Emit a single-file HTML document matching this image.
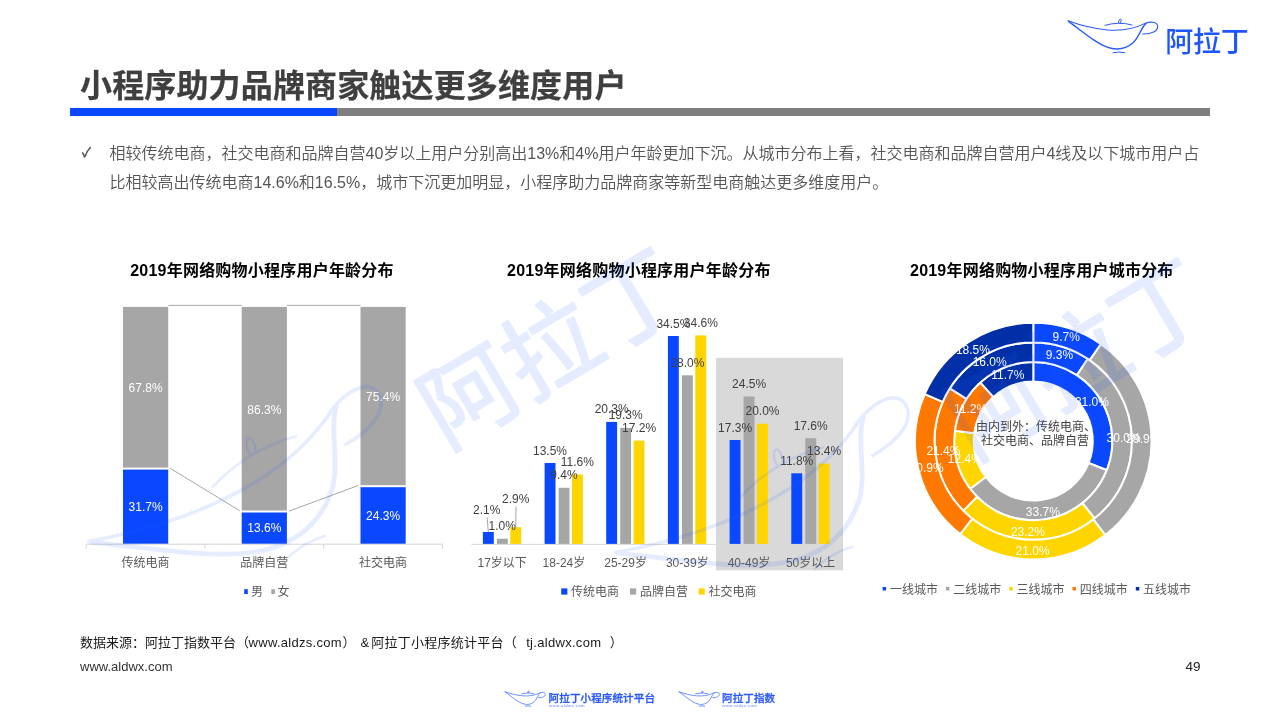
<!DOCTYPE html>
<html lang="zh"><head><meta charset="utf-8"><title>小程序助力品牌商家触达更多维度用户</title>
<style>
html,body{margin:0;padding:0;background:#fff;}
body{width:1280px;height:720px;position:relative;overflow:hidden;will-change:transform;font-family:"Liberation Sans","Noto Sans CJK SC",sans-serif;}
.abs{position:absolute;white-space:nowrap;}
svg text{font-family:"Liberation Sans","Noto Sans CJK SC",sans-serif;}
#title{left:80px;top:62.7px;font-size:32px;font-weight:bold;color:#3f3f3f;line-height:46px;letter-spacing:0.15px;-webkit-text-stroke:0.25px #3f3f3f;}
#barb{left:70px;top:108px;width:267px;height:8px;background:#0a48ff;}
#barg{left:337px;top:108px;width:873px;height:8px;background:#7f7f7f;}
#chk{left:82px;top:141px;font-size:13px;color:#505050;line-height:24px;-webkit-text-stroke:0.5px #505050;}
#body{left:109.5px;top:140.4px;font-size:16px;color:#555;line-height:28.2px;white-space:normal;width:1100px;font-weight:350;}
.f1{font-size:13px;color:#1a1a1a;line-height:20px;top:633px;}
#f2{left:80px;top:657px;font-size:13px;color:#333;line-height:20px;}
#pg{left:1185.5px;top:656.5px;font-size:13.5px;color:#222;line-height:20px;}
</style></head><body>
<div class="abs" id="title">小程序助力品牌商家触达更多维度用户</div>
<div class="abs" id="barb"></div><div class="abs" id="barg"></div>
<div class="abs" id="chk">✓</div>
<div class="abs" id="body">相较传统电商，社交电商和品牌自营40岁以上用户分别高出13%和4%用户年龄更加下沉。从城市分布上看，社交电商和品牌自营用户4线及以下城市用户占比相较高出传统电商14.6%和16.5%，城市下沉更加明显，小程序助力品牌商家等新型电商触达更多维度用户。</div>

<svg class="abs" style="left:0;top:0" width="1280" height="720" viewBox="0 0 1280 720">
<text x="262.0" y="275.5" font-size="16" fill="#000" text-anchor="middle" font-weight="bold" letter-spacing="0.22">2019年网络购物小程序用户年龄分布</text>
<text x="638.9" y="275.5" font-size="16" fill="#000" text-anchor="middle" font-weight="bold" letter-spacing="0.22">2019年网络购物小程序用户年龄分布</text>
<text x="1041.8" y="275.5" font-size="16" fill="#000" text-anchor="middle" font-weight="bold" letter-spacing="0.22">2019年网络购物小程序用户城市分布</text>
<line x1="86.2" y1="544.2" x2="442.4" y2="544.2" stroke="#d4d4d4" stroke-width="1"/>
<line x1="86.2" y1="544.2" x2="86.2" y2="548.7" stroke="#d4d4d4" stroke-width="1"/>
<line x1="204.9" y1="544.2" x2="204.9" y2="548.7" stroke="#d4d4d4" stroke-width="1"/>
<line x1="323.7" y1="544.2" x2="323.7" y2="548.7" stroke="#d4d4d4" stroke-width="1"/>
<line x1="442.4" y1="544.2" x2="442.4" y2="548.7" stroke="#d4d4d4" stroke-width="1"/>
<rect x="123.0" y="306.9" width="45.2" height="160.7" fill="#a6a6a6"/>
<rect x="123.0" y="469.6" width="45.2" height="74.1" fill="#0a48ff"/>
<text x="145.6" y="392.1" font-size="12" fill="#fff" text-anchor="middle">67.8%</text>
<text x="145.6" y="511.0" font-size="12" fill="#fff" text-anchor="middle">31.7%</text>
<text x="145.6" y="567.2" font-size="12" fill="#595959" text-anchor="middle">传统电商</text>
<rect x="241.7" y="306.9" width="45.2" height="203.6" fill="#a6a6a6"/>
<rect x="241.7" y="512.5" width="45.2" height="31.2" fill="#0a48ff"/>
<text x="264.3" y="413.5" font-size="12" fill="#fff" text-anchor="middle">86.3%</text>
<text x="264.3" y="532.4" font-size="12" fill="#fff" text-anchor="middle">13.6%</text>
<text x="264.3" y="567.2" font-size="12" fill="#595959" text-anchor="middle">品牌自营</text>
<rect x="360.5" y="306.9" width="45.2" height="178.3" fill="#a6a6a6"/>
<rect x="360.5" y="487.2" width="45.2" height="56.5" fill="#0a48ff"/>
<text x="383.1" y="400.8" font-size="12" fill="#fff" text-anchor="middle">75.4%</text>
<text x="383.1" y="519.7" font-size="12" fill="#fff" text-anchor="middle">24.3%</text>
<text x="383.1" y="567.2" font-size="12" fill="#595959" text-anchor="middle">社交电商</text>
<line x1="168.2" y1="305.4" x2="241.7" y2="305.4" stroke="#a6a6a6" stroke-width="1"/>
<line x1="170.2" y1="468.3" x2="239.7" y2="510.7" stroke="#a6a6a6" stroke-width="1"/>
<line x1="286.9" y1="305.4" x2="360.5" y2="305.4" stroke="#a6a6a6" stroke-width="1"/>
<line x1="288.9" y1="511.2" x2="358.5" y2="485.4" stroke="#a6a6a6" stroke-width="1"/>
<rect x="244.2" y="589.2" width="3.6" height="4.8" fill="#0a48ff"/>
<text x="251.0" y="596.2" font-size="12" fill="#595959" text-anchor="start">男</text>
<rect x="271.3" y="589.2" width="3.6" height="4.8" fill="#a6a6a6"/>
<text x="277.5" y="596.2" font-size="12" fill="#595959" text-anchor="start">女</text>
<rect x="716.0" y="357.8" width="127.0" height="212.6" fill="#d9d9d9"/>
<line x1="471.4" y1="544.4" x2="841.5" y2="544.4" stroke="#d9d9d9" stroke-width="1"/>
<rect x="482.9" y="532.0" width="10.9" height="11.9" fill="#0a48ff"/>
<rect x="496.9" y="538.7" width="10.9" height="5.2" fill="#a6a6a6"/>
<rect x="510.3" y="527.2" width="10.9" height="16.7" fill="#ffd500"/>
<rect x="544.6" y="463.0" width="10.9" height="80.9" fill="#0a48ff"/>
<rect x="558.6" y="487.8" width="10.9" height="56.1" fill="#a6a6a6"/>
<rect x="572.0" y="474.5" width="10.9" height="69.4" fill="#ffd500"/>
<rect x="606.2" y="421.9" width="10.9" height="122.0" fill="#0a48ff"/>
<rect x="620.2" y="427.9" width="10.9" height="116.0" fill="#a6a6a6"/>
<rect x="633.6" y="440.6" width="10.9" height="103.3" fill="#ffd500"/>
<rect x="667.9" y="336.0" width="10.9" height="207.9" fill="#0a48ff"/>
<rect x="681.9" y="375.3" width="10.9" height="168.6" fill="#a6a6a6"/>
<rect x="695.3" y="335.4" width="10.9" height="208.5" fill="#ffd500"/>
<rect x="729.6" y="440.0" width="10.9" height="103.9" fill="#0a48ff"/>
<rect x="743.6" y="396.5" width="10.9" height="147.4" fill="#a6a6a6"/>
<rect x="757.0" y="423.7" width="10.9" height="120.2" fill="#ffd500"/>
<rect x="791.3" y="473.3" width="10.9" height="70.6" fill="#0a48ff"/>
<rect x="805.3" y="438.2" width="10.9" height="105.7" fill="#a6a6a6"/>
<rect x="818.7" y="463.6" width="10.9" height="80.3" fill="#ffd500"/>
<text x="502.2" y="567.1" font-size="12" fill="#595959" text-anchor="middle">17岁以下</text>
<line x1="487.1" y1="517.2" x2="488.3" y2="532.0" stroke="#a6a6a6" stroke-width="1"/>
<text x="486.8" y="513.5" font-size="12" fill="#404040" text-anchor="middle">2.1%</text>
<text x="502.3" y="530.2" font-size="12" fill="#404040" text-anchor="middle">1.0%</text>
<line x1="516.0" y1="506.4" x2="515.7" y2="527.2" stroke="#a6a6a6" stroke-width="1"/>
<text x="515.7" y="502.7" font-size="12" fill="#404040" text-anchor="middle">2.9%</text>
<text x="563.9" y="567.1" font-size="12" fill="#595959" text-anchor="middle">18-24岁</text>
<text x="550.0" y="454.5" font-size="12" fill="#404040" text-anchor="middle">13.5%</text>
<text x="564.0" y="479.3" font-size="12" fill="#404040" text-anchor="middle">9.4%</text>
<text x="577.4" y="466.0" font-size="12" fill="#404040" text-anchor="middle">11.6%</text>
<text x="625.6" y="567.1" font-size="12" fill="#595959" text-anchor="middle">25-29岁</text>
<text x="611.7" y="413.4" font-size="12" fill="#404040" text-anchor="middle">20.3%</text>
<text x="625.7" y="419.4" font-size="12" fill="#404040" text-anchor="middle">19.3%</text>
<text x="639.1" y="432.1" font-size="12" fill="#404040" text-anchor="middle">17.2%</text>
<text x="687.3" y="567.1" font-size="12" fill="#595959" text-anchor="middle">30-39岁</text>
<text x="673.4" y="327.5" font-size="12" fill="#404040" text-anchor="middle">34.5%</text>
<text x="687.4" y="366.8" font-size="12" fill="#404040" text-anchor="middle">28.0%</text>
<text x="700.8" y="326.9" font-size="12" fill="#404040" text-anchor="middle">34.6%</text>
<text x="749.0" y="567.1" font-size="12" fill="#595959" text-anchor="middle">40-49岁</text>
<text x="735.1" y="431.5" font-size="12" fill="#404040" text-anchor="middle">17.3%</text>
<text x="749.1" y="388.0" font-size="12" fill="#404040" text-anchor="middle">24.5%</text>
<text x="762.5" y="415.2" font-size="12" fill="#404040" text-anchor="middle">20.0%</text>
<text x="810.6" y="567.1" font-size="12" fill="#595959" text-anchor="middle">50岁以上</text>
<text x="796.7" y="464.8" font-size="12" fill="#404040" text-anchor="middle">11.8%</text>
<text x="810.7" y="429.7" font-size="12" fill="#404040" text-anchor="middle">17.6%</text>
<text x="824.1" y="455.1" font-size="12" fill="#404040" text-anchor="middle">13.4%</text>
<rect x="561.2" y="588.4" width="6.2" height="6.2" fill="#0a48ff"/>
<text x="571.0" y="596.2" font-size="12" fill="#595959" text-anchor="start">传统电商</text>
<rect x="630.0" y="588.4" width="6.2" height="6.2" fill="#a6a6a6"/>
<text x="640.0" y="596.2" font-size="12" fill="#595959" text-anchor="start">品牌自营</text>
<rect x="698.6" y="588.4" width="6.2" height="6.2" fill="#ffd500"/>
<text x="708.5" y="596.2" font-size="12" fill="#595959" text-anchor="start">社交电商</text>
<path d="M1033.30,362.00 A79.1,79.1 0 0 1 1106.85,470.22 L1088.62,463.00 A59.5,59.5 0 0 0 1033.30,381.60 Z" fill="#0a48ff" stroke="#fff" stroke-width="2" stroke-linejoin="round"/>
<path d="M1106.85,470.22 A79.1,79.1 0 0 1 970.19,488.79 L985.83,476.97 A59.5,59.5 0 0 0 1088.62,463.00 Z" fill="#a6a6a6" stroke="#fff" stroke-width="2" stroke-linejoin="round"/>
<path d="M970.19,488.79 A79.1,79.1 0 0 1 954.89,430.69 L974.32,433.27 A59.5,59.5 0 0 0 985.83,476.97 Z" fill="#ffd500" stroke="#fff" stroke-width="2" stroke-linejoin="round"/>
<path d="M954.89,430.69 A79.1,79.1 0 0 1 980.25,382.43 L993.39,396.97 A59.5,59.5 0 0 0 974.32,433.27 Z" fill="#ff7800" stroke="#fff" stroke-width="2" stroke-linejoin="round"/>
<path d="M980.25,382.43 A79.1,79.1 0 0 1 1033.30,362.00 L1033.30,381.60 A59.5,59.5 0 0 0 993.39,396.97 Z" fill="#002fa7" stroke="#fff" stroke-width="2" stroke-linejoin="round"/>
<path d="M1033.30,342.40 A98.7,98.7 0 0 1 1087.80,358.81 L1076.97,375.15 A79.1,79.1 0 0 0 1033.30,362.00 Z" fill="#0a48ff" stroke="#fff" stroke-width="2" stroke-linejoin="round"/>
<path d="M1087.80,358.81 A98.7,98.7 0 0 1 1094.58,518.47 L1082.41,503.11 A79.1,79.1 0 0 0 1076.97,375.15 Z" fill="#a6a6a6" stroke="#fff" stroke-width="2" stroke-linejoin="round"/>
<path d="M1094.58,518.47 A98.7,98.7 0 0 1 963.23,510.62 L977.15,496.81 A79.1,79.1 0 0 0 1082.41,503.11 Z" fill="#ffd500" stroke="#fff" stroke-width="2" stroke-linejoin="round"/>
<path d="M963.23,510.62 A98.7,98.7 0 0 1 949.91,388.30 L966.47,398.78 A79.1,79.1 0 0 0 977.15,496.81 Z" fill="#ff7800" stroke="#fff" stroke-width="2" stroke-linejoin="round"/>
<path d="M949.91,388.30 A98.7,98.7 0 0 1 1033.30,342.40 L1033.30,362.00 A79.1,79.1 0 0 0 966.47,398.78 Z" fill="#002fa7" stroke="#fff" stroke-width="2" stroke-linejoin="round"/>
<path d="M1033.30,322.80 A118.3,118.3 0 0 1 1101.02,344.10 L1089.80,360.17 A98.7,98.7 0 0 0 1033.30,342.40 Z" fill="#0a48ff" stroke="#fff" stroke-width="2" stroke-linejoin="round"/>
<path d="M1101.02,344.10 A118.3,118.3 0 0 1 1105.22,535.03 L1093.30,519.47 A98.7,98.7 0 0 0 1089.80,360.17 Z" fill="#a6a6a6" stroke="#fff" stroke-width="2" stroke-linejoin="round"/>
<path d="M1105.22,535.03 A118.3,118.3 0 0 1 960.21,534.12 L972.32,518.71 A98.7,98.7 0 0 0 1093.30,519.47 Z" fill="#ffd500" stroke="#fff" stroke-width="2" stroke-linejoin="round"/>
<path d="M960.21,534.12 A118.3,118.3 0 0 1 924.73,394.12 L942.72,401.90 A98.7,98.7 0 0 0 972.32,518.71 Z" fill="#ff7800" stroke="#fff" stroke-width="2" stroke-linejoin="round"/>
<path d="M924.73,394.12 A118.3,118.3 0 0 1 1033.30,322.80 L1033.30,342.40 A98.7,98.7 0 0 0 942.72,401.90 Z" fill="#002fa7" stroke="#fff" stroke-width="2" stroke-linejoin="round"/>
<text x="1091.9" y="405.6" font-size="12" fill="#fff" text-anchor="middle">31.0%</text>
<text x="1042.8" y="515.6" font-size="12" fill="#fff" text-anchor="middle">33.7%</text>
<text x="964.8" y="463.4" font-size="12" fill="#fff" text-anchor="middle">12.4%</text>
<text x="970.6" y="412.5" font-size="12" fill="#fff" text-anchor="middle">11.2%</text>
<text x="1007.9" y="379.3" font-size="12" fill="#fff" text-anchor="middle">11.7%</text>
<text x="1059.4" y="358.8" font-size="12" fill="#fff" text-anchor="middle">9.3%</text>
<text x="1123.6" y="441.6" font-size="12" fill="#fff" text-anchor="middle">30.0%</text>
<text x="1027.9" y="535.6" font-size="12" fill="#fff" text-anchor="middle">23.2%</text>
<text x="943.4" y="455.2" font-size="12" fill="#fff" text-anchor="middle">21.4%</text>
<text x="989.7" y="366.2" font-size="12" fill="#fff" text-anchor="middle">16.0%</text>
<text x="1066.3" y="340.5" font-size="12" fill="#fff" text-anchor="middle">9.7%</text>
<text x="1143.3" y="443.0" font-size="12" fill="#fff" text-anchor="middle">29.9%</text>
<text x="1032.6" y="555.4" font-size="12" fill="#fff" text-anchor="middle">21.0%</text>
<text x="926.7" y="472.4" font-size="12" fill="#fff" text-anchor="middle">20.9%</text>
<text x="972.9" y="353.5" font-size="12" fill="#fff" text-anchor="middle">18.5%</text>
<text x="1036.0" y="431.3" font-size="12" fill="#404040" text-anchor="middle">由内到外：传统电商、</text>
<text x="1035.0" y="445.1" font-size="12" fill="#404040" text-anchor="middle">社交电商、品牌自营</text>
<rect x="882.6" y="587.0" width="3.5" height="3.5" fill="#0a48ff"/>
<text x="889.9" y="594.0" font-size="12" fill="#595959" text-anchor="start">一线城市</text>
<rect x="945.9" y="587.0" width="3.5" height="3.5" fill="#a6a6a6"/>
<text x="953.2" y="594.0" font-size="12" fill="#595959" text-anchor="start">二线城市</text>
<rect x="1009.2" y="587.0" width="3.5" height="3.5" fill="#ffd500"/>
<text x="1016.5" y="594.0" font-size="12" fill="#595959" text-anchor="start">三线城市</text>
<rect x="1072.5" y="587.0" width="3.5" height="3.5" fill="#ff7800"/>
<text x="1079.8" y="594.0" font-size="12" fill="#595959" text-anchor="start">四线城市</text>
<rect x="1135.8" y="587.0" width="3.5" height="3.5" fill="#002fa7"/>
<text x="1143.1" y="594.0" font-size="12" fill="#595959" text-anchor="start">五线城市</text>
</svg>

<svg class="abs" style="left:0;top:0" width="1280" height="720" viewBox="0 0 1280 720">
<g opacity="0.12">
<g transform="translate(83.44,532.68) rotate(-30.6) scale(3.62)"><g fill="none" stroke="#2a5cff" stroke-linecap="round" stroke-linejoin="round">
<path stroke-width="0.95" d="M0,2.8 C25,12 55,17 77,5.4 C84,3 90,4 89.7,8.9 C89.5,13 84,16 74.8,15.9"/>
<path stroke-width="1.3" d="M0.6,3.4 C15,14 30,27 42,30 C50,32 58,31 65.4,24.5 C71,19 73,10 78,5.4"/>
<path stroke-width="0.7" d="M37,7.3 Q51,3.2 64,7"/>
<path stroke-width="0.7" d="M50.6,5 C50.6,2 52,0.6 52.8,1 C53.6,1.4 53,4 52.2,5.2"/>
<path stroke-width="0.7" d="M45,34.7 Q51,33.3 57,34.7"/>
</g></g><g transform="translate(83.60,532.90) rotate(-30.6) scale(3.52)"><text x="100.6" y="32.2" font-size="27" font-weight="400" fill="#2a5cff" letter-spacing="0" stroke="#2a5cff" stroke-width="0.55" stroke-linejoin="round">阿拉丁</text></g>
<g transform="translate(610.44,543.68) rotate(-30.6) scale(3.62)"><g fill="none" stroke="#2a5cff" stroke-linecap="round" stroke-linejoin="round">
<path stroke-width="0.95" d="M0,2.8 C25,12 55,17 77,5.4 C84,3 90,4 89.7,8.9 C89.5,13 84,16 74.8,15.9"/>
<path stroke-width="1.3" d="M0.6,3.4 C15,14 30,27 42,30 C50,32 58,31 65.4,24.5 C71,19 73,10 78,5.4"/>
<path stroke-width="0.7" d="M37,7.3 Q51,3.2 64,7"/>
<path stroke-width="0.7" d="M50.6,5 C50.6,2 52,0.6 52.8,1 C53.6,1.4 53,4 52.2,5.2"/>
<path stroke-width="0.7" d="M45,34.7 Q51,33.3 57,34.7"/>
</g></g><g transform="translate(610.60,543.90) rotate(-30.6) scale(3.52)"><text x="100.6" y="32.2" font-size="27" font-weight="400" fill="#2a5cff" letter-spacing="0" stroke="#2a5cff" stroke-width="0.55" stroke-linejoin="round">阿拉丁</text></g>
</g>
<g transform="translate(1068,18)"><g fill="none" stroke="#2a5cff" stroke-linecap="round" stroke-linejoin="round">
<path stroke-width="1.05" d="M0,2.8 C25,12 55,17 77,5.4 C84,3 90,4 89.7,8.9 C89.5,13 84,16 74.8,15.9"/>
<path stroke-width="1.5" d="M0.6,3.4 C15,14 30,27 42,30 C50,32 58,31 65.4,24.5 C71,19 73,10 78,5.4"/>
<path stroke-width="1.0" d="M37,7.3 Q51,3.2 64,7"/>
<path stroke-width="1.0" d="M50.6,5 C50.6,2 52,0.6 52.8,1 C53.6,1.4 53,4 52.2,5.2"/>
<path stroke-width="1.0" d="M45,34.7 Q51,33.3 57,34.7"/>
</g><text x="97.3" y="33.6" font-size="28" font-weight="500" fill="#1f55ff" letter-spacing="-0.3" stroke="#1f55ff" stroke-width="0" stroke-linejoin="round">阿拉丁</text></g>
</svg>

<div class="abs f1" style="left:80px">数据来源：阿拉丁指数平台（</div>
<div class="abs f1" style="left:248.6px;letter-spacing:0.28px">www.aldzs.com</div>
<div class="abs f1" style="left:342.5px">）</div>
<div class="abs f1" style="left:360.5px">&amp;</div>
<div class="abs f1" style="left:371.2px;letter-spacing:0.25px">阿拉丁小程序统计平台（</div>
<div class="abs f1" style="left:526.2px;letter-spacing:0.3px">tj.aldwx.com</div>
<div class="abs f1" style="left:609.7px">）</div>
<div class="abs" id="f2">www.aldwx.com</div>
<div class="abs" id="pg">49</div>

<svg class="abs" style="left:0;top:0" width="1280" height="720" viewBox="0 0 1280 720">
<g transform="translate(505,690.5) scale(0.45)"><g fill="none" stroke="#3b68ff" stroke-linecap="round" stroke-linejoin="round">
<path stroke-width="1.6" d="M0,2.8 C25,12 55,17 77,5.4 C84,3 90,4 89.7,8.9 C89.5,13 84,16 74.8,15.9"/>
<path stroke-width="1.6" d="M0.6,3.4 C15,14 30,27 42,30 C50,32 58,31 65.4,24.5 C71,19 73,10 78,5.4"/>
<path stroke-width="1.6" d="M37,7.3 Q51,3.2 64,7"/>
<path stroke-width="1.6" d="M50.6,5 C50.6,2 52,0.6 52.8,1 C53.6,1.4 53,4 52.2,5.2"/>
<path stroke-width="1.6" d="M45,34.7 Q51,33.3 57,34.7"/>
</g></g>
<text x="548.6" y="702" font-size="10.6" font-weight="500" fill="#2a58ff" stroke="#2a58ff" stroke-width="0.3" letter-spacing="0.05">阿拉丁小程序统计平台</text>
<text x="549" y="706.8" font-size="4.3" fill="#5f85ff" letter-spacing="0.42">www.aldwx.com</text>
<g transform="translate(679,690.5) scale(0.45)"><g fill="none" stroke="#3b68ff" stroke-linecap="round" stroke-linejoin="round">
<path stroke-width="1.6" d="M0,2.8 C25,12 55,17 77,5.4 C84,3 90,4 89.7,8.9 C89.5,13 84,16 74.8,15.9"/>
<path stroke-width="1.6" d="M0.6,3.4 C15,14 30,27 42,30 C50,32 58,31 65.4,24.5 C71,19 73,10 78,5.4"/>
<path stroke-width="1.6" d="M37,7.3 Q51,3.2 64,7"/>
<path stroke-width="1.6" d="M50.6,5 C50.6,2 52,0.6 52.8,1 C53.6,1.4 53,4 52.2,5.2"/>
<path stroke-width="1.6" d="M45,34.7 Q51,33.3 57,34.7"/>
</g></g>
<text x="722" y="702" font-size="10.6" font-weight="500" fill="#2a58ff" stroke="#2a58ff" stroke-width="0.3" letter-spacing="0.05">阿拉丁指数</text>
<text x="722.3" y="706.8" font-size="4.3" fill="#5f85ff" letter-spacing="0.42">www.aldzs.com</text>
</svg>
</body></html>
